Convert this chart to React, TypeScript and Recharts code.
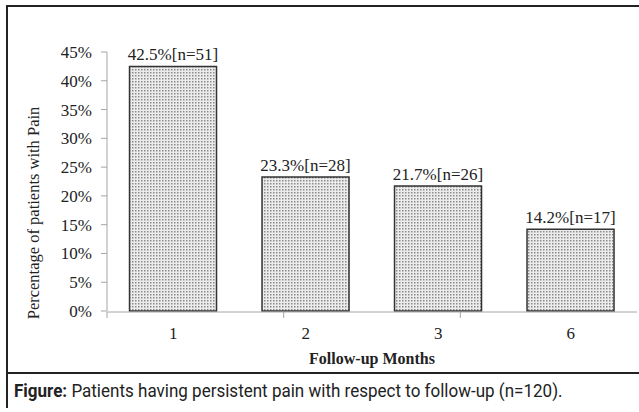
import { BarChart, Bar, XAxis, YAxis, LabelList } from "recharts";

const months = ["1", "2", "3", "6"];
const percents = [42.5, 23.3, 21.7, 14.2];
const counts = [51, 28, 26, 17];
const yTicks = [0, 5, 10, 15, 20, 25, 30, 35, 40, 45];
const edgeTicks = [0, 1, 2, 3, 4];

const data = months.map((m, i) => ({ month: m, pct: percents[i], n: counts[i], label: `${percents[i]}%[n=${counts[i]}]` }));

const SERIF = "'Liberation Serif', 'Times New Roman', serif";
const AXIS = "#a6a6a6";

const YTitle = () => (
  <text x={33} y={213} transform="rotate(-90 33 213)" textAnchor="middle" dy="0.35em" fontFamily={SERIF} fontSize={16.5} fill="#222">
    Percentage of patients with Pain
  </text>
);

export default function App() {
  return (
    <div style={{ position: "absolute", left: 0, top: 0, width: 639, height: 412, background: "#fff" }}>
      <div style={{ position: "absolute", left: 6, top: 5, width: 633, height: 2, background: "#222" }} />
      <div style={{ position: "absolute", left: 6, top: 5, width: 2, height: 403, background: "#222" }} />
      <div style={{ position: "absolute", left: 6, top: 372, width: 633, height: 2, background: "#222" }} />
      <div style={{ position: "absolute", left: 0, top: 0 }}>
        <BarChart width={639} height={372} data={data} margin={{ top: 52, right: 2, left: 47, bottom: 26 }} barCategoryGap="17%" style={{ fontFamily: SERIF }}>
          <defs>
            <pattern id="dots" width="3" height="3" patternUnits="userSpaceOnUse">
              <rect width="3" height="3" fill="#ececec" />
              <rect width="1.5" height="1.5" fill="#8a8a8a" />
            </pattern>
          </defs>
          <XAxis xAxisId="cat" dataKey="month" height={1} axisLine={false} tickLine={false} tick={{ fontFamily: SERIF, fontSize: 17, fill: "#222" }} tickMargin={10} />
          <XAxis xAxisId="edges" type="number" domain={[0, 4]} ticks={edgeTicks} height={34} axisLine={{ stroke: AXIS }} tickLine={{ stroke: AXIS }} tickSize={6} tickFormatter={() => ""}
            label={{ value: "Follow-up Months", position: "insideBottom", offset: -18, fontFamily: SERIF, fontSize: 16, fontWeight: "bold", fill: "#222" }} />
          <YAxis width={60} domain={[0, 45]} ticks={yTicks} interval={0} tickFormatter={(v) => `${v}%`} axisLine={{ stroke: AXIS }} tickLine={{ stroke: AXIS }} tickSize={6} tickMargin={9}
            tick={{ fontFamily: SERIF, fontSize: 17, fill: "#222" }} label={<YTitle />} />
          <Bar xAxisId="cat" dataKey="pct" fill="url(#dots)" stroke="#333" strokeWidth={1.5} isAnimationActive={false}>
            <LabelList dataKey="label" position="top" offset={6} fontFamily={SERIF} fontSize={17} fill="#222" />
          </Bar>
        </BarChart>
      </div>
      <div style={{ position: "absolute", left: 14, top: 380, fontFamily: "'Roboto', 'Open Sans', sans-serif", fontSize: 18.5, color: "#222", whiteSpace: "nowrap", transform: "scaleX(0.92)", transformOrigin: "left top" }}>
        <b>Figure:</b> Patients having persistent pain with respect to follow-up (n=120).
      </div>
    </div>
  );
}
